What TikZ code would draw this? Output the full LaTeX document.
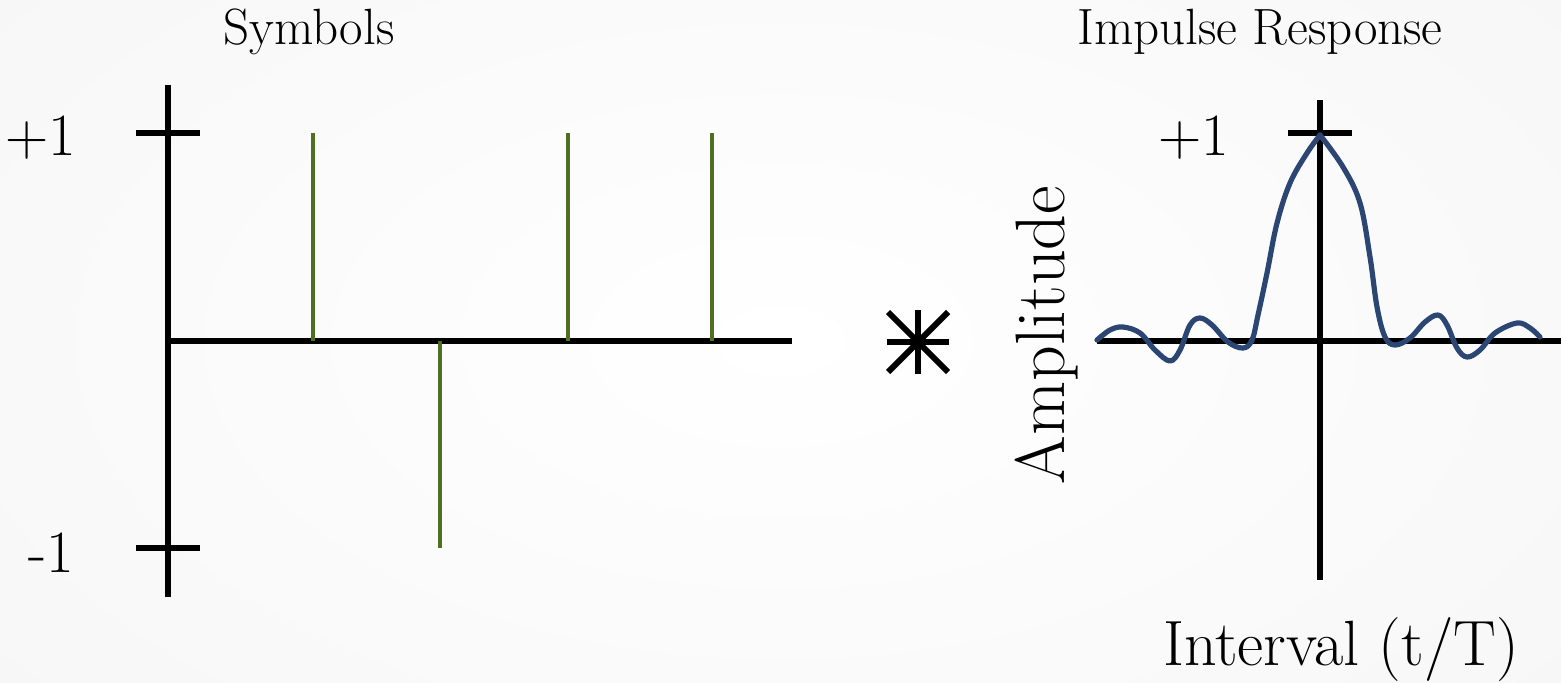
\documentclass[tikz,border=0pt]{standalone}
\usetikzlibrary{calc}
\definecolor{stemgreen}{HTML}{4F7020}
\definecolor{sincblue}{HTML}{2B4673}
\begin{document}
\begin{tikzpicture}[x=0.5pt,y=-0.5pt,
  axis/.style={line width=3pt,black},
  stem/.style={line width=2.3pt,stemgreen},
  sinc/.style={line width=2.6pt,sincblue,line cap=round,line join=round},
  star/.style={line width=3pt,black},
  title/.style={font=\fontsize{25.5}{30}\selectfont,anchor=base,inner sep=0pt},
  lbl/.style={font=\fontsize{30}{36}\selectfont,anchor=base,inner sep=0pt},
  big/.style={font=\fontsize{32}{38}\selectfont,anchor=base,inner sep=0pt},
  bigr/.style={font=\fontsize{35}{40}\selectfont,anchor=base,inner sep=0pt,rotate=90}]
\useasboundingbox (0,0) rectangle (1561,682);
\fill[white] (0,0) rectangle (1561,682);
\shade[inner color=white,outer color=black!3] (-200,-200) rectangle (1761,882);
% left panel
\node[title] (symt) at (309,44) {Symbols};
\node[lbl] (p1) at (41,155) {+1};
\node[lbl] (m1) at (51,572) {-1};
\coordinate (vtop) at (168,85);
\coordinate (vbot) at (168,597);
\coordinate (hl) at (168,341);
\coordinate (hr) at (792,341);
\draw[axis] (vtop) -- (vbot);
\draw[axis] (hl) -- (hr);
\draw[axis] (136,133) -- (200,133);
\draw[axis] (136,548) -- (200,548);
\coordinate (s1) at (313,133); \coordinate (b1) at (313,341);
\coordinate (s2) at (440,548); \coordinate (b2) at (440,341);
\coordinate (s3) at (568,133); \coordinate (b3) at (568,341);
\coordinate (s4) at (712,133); \coordinate (b4) at (712,341);
\draw[stem] (b1) -- (s1);
\draw[stem] (b2) -- (s2);
\draw[stem] (b3) -- (s3);
\draw[stem] (b4) -- (s4);
% convolution star
\coordinate (c) at (918,342);
\draw[star] ($(c)+(-31,0)$) -- ($(c)+(31,0)$);
\draw[star] ($(c)+(0,-32)$) -- ($(c)+(0,32)$);
\draw[star] ($(c)+(-30,-30)$) -- ($(c)+(30,30)$);
\draw[star] ($(c)+(-30,30)$) -- ($(c)+(30,-30)$);
% right panel
\node[title] (irt) at (1260,44) {Impulse Response};
\node[lbl] (p1r) at (1194,155) {+1};
\node[bigr] (amp) at (1064,335) {Amplitude};
\node[big] (intv) at (1341,665) {Interval (t/T)};
\draw[axis] (1320,100) -- (1320,580);
\draw[axis] (1097,341) -- (1561,341);
\draw[axis] (1288,133) -- (1352,133);
\draw[sinc] plot[smooth,tension=0.6] coordinates {
 (1097,340) (1110,330) (1123,327) (1140,333) (1155,350) (1170,361) (1180,350)
 (1190,325) (1200,318) (1212,325) (1228,342) (1243,348) (1252,340) (1258,315)
 (1267,273) (1277,223) (1290,183) (1307,153) (1320,135)};
\draw[sinc] plot[smooth,tension=0.6] coordinates {
 (1320,135) (1343,167) (1360,203) (1370,257) (1377,307) (1385,337) (1395,345)
 (1410,338) (1425,322) (1438,315) (1447,325) (1457,348) (1467,357) (1480,350)
 (1495,333) (1517,323) (1530,328) (1540,337)};
\end{tikzpicture}
\end{document}
